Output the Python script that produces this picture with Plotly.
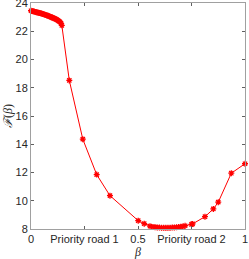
import plotly.graph_objects as go

beta = [0.0, 0.005, 0.01, 0.015, 0.02, 0.025, 0.03, 0.035, 0.04, 0.045, 0.05, 0.055, 0.06,
        0.065, 0.07, 0.075, 0.08, 0.085, 0.09, 0.095, 0.1, 0.105, 0.11, 0.115, 0.12, 0.125,
        0.13, 0.135, 0.14, 0.144,
        0.179, 0.242, 0.307, 0.369,
        0.501, 0.529, 0.556, 0.57, 0.58, 0.59, 0.6, 0.61, 0.62, 0.63, 0.64, 0.65, 0.66, 0.67,
        0.68, 0.69, 0.70, 0.71,
        0.72, 0.75, 0.755, 0.813, 0.852, 0.875, 0.936, 1.0]
F = [23.45, 23.43, 23.41, 23.39, 23.37, 23.35, 23.33, 23.31, 23.29, 23.27, 23.25, 23.22, 23.2,
     23.17, 23.15, 23.12, 23.09, 23.06, 23.03, 23.0, 22.97, 22.93, 22.9, 22.86, 22.82, 22.77,
     22.72, 22.66, 22.57, 22.42,
     18.52, 14.36, 11.85, 10.36,
     8.59, 8.38, 8.2, 8.15, 8.13, 8.11, 8.1, 8.09, 8.08, 8.08, 8.08, 8.09, 8.1, 8.11,
     8.12, 8.14, 8.16, 8.18,
     8.23, 8.33, 8.36, 8.87, 9.42, 9.9, 11.95, 12.62]

xtick_vals = [0, 0.25, 0.5, 0.75, 1]
xtick_text = ["0", "Priority road 1", "0.5", "Priority road 2", "1"]
ytick_vals = [8, 10, 12, 14, 16, 18, 20, 22, 24]

fig = go.Figure()
fig.add_trace(go.Scatter(
    x=beta, y=F, mode="lines+markers",
    line=dict(color="#ff0000", width=1),
    marker=dict(symbol="asterisk-open", size=5, color="#ff0000",
                line=dict(color="#ff0000", width=1.3)),
    cliponaxis=False, showlegend=False,
))

axis_common = dict(
    showgrid=False, zeroline=False, showline=True, linecolor="#a0a0a0", linewidth=1,
    mirror="ticks", ticks="inside", ticklen=3, tickcolor="#606060", tickwidth=1,
    automargin=False, ticklabeloverflow="allow",
    tickfont=dict(family="Liberation Sans, Arial", size=11, color="#262626"),
)

fig.update_layout(
    width=249, height=259,
    margin=dict(l=31, r=4, t=3, b=30),
    plot_bgcolor="white", paper_bgcolor="white",
    xaxis=dict(range=[0, 1], tickvals=xtick_vals, ticktext=xtick_text,
               title=dict(text="<i>β</i>", standoff=0,
                          font=dict(family="Liberation Serif, Times New Roman", size=12, color="#262626")),
               **axis_common),
    yaxis=dict(range=[8, 24], tickvals=ytick_vals,
               title=dict(text="<i>ℱ</i>(<i>β</i>)", standoff=0,
                          font=dict(family="Liberation Serif, Times New Roman", size=12, color="#262626")),
               **axis_common),
)

fig.write_html("out.html", config={"displayModeBar": False},
               post_script="document.body.style.margin='0px';document.body.style.overflow='hidden';")
